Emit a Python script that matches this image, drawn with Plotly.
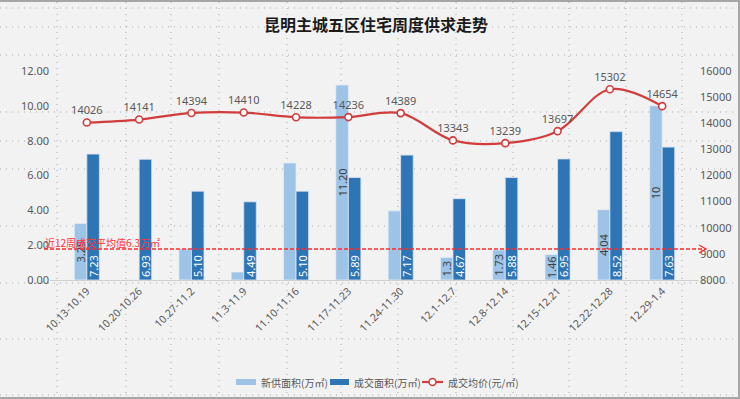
import plotly.graph_objects as go

# ---------------- data ----------------
weeks = ["10.13-10.19", "10.20-10.26", "10.27-11.2", "11.3-11.9", "11.10-11.16",
         "11.17-11.23", "11.24-11.30", "12.1-12.7", "12.8-12.14", "12.15-12.21",
         "12.22-12.28", "12.29-1.4"]
supply = [3.25, 0, 1.78, 0.46, 6.72, 11.20, 3.97, 1.3, 1.73, 1.46, 4.04, 10]
supply_labels = ["3.25", "", "", "", "", "11.20", "", "1.3", "1.73", "1.46", "4.04", "10"]
deal = [7.23, 6.93, 5.10, 4.49, 5.10, 5.89, 7.17, 4.67, 5.88, 6.95, 8.52, 7.63]
deal_labels = ["7.23", "6.93", "5.10", "4.49", "5.10", "5.89", "7.17", "4.67", "5.88", "6.95", "8.52", "7.63"]
price = [14026, 14141, 14394, 14410, 14228, 14236, 14389, 13343, 13239, 13697, 15302, 14654]
left_ticks = [0, 2, 4, 6, 8, 10, 12]
left_tick_text = ["0.00", "2.00", "4.00", "6.00", "8.00", "10.00", "12.00"]
right_ticks = [8000, 9000, 10000, 11000, 12000, 13000, 14000, 15000, 16000]
series_names = ["新供面积(万㎡)", "成交面积(万㎡)", "成交均价(元/㎡)"]
avg_text = "近12周成交平均值6.3万㎡"
avg_line_level = 1.78  # where the reference draws the average marker on the left axis

# ---------------- layout helpers ----------------
W, H = 740, 399
ML, MR, MT, MB = 50, 41, 71, 119
PW, PH = W - ML - MR, H - MT - MB


def px(x):
    return (x - ML) / PW


def py(y):
    return (H - MB - y) / PH


GRAY = "#595959"
LIGHT = "#9dc3e6"
DARK = "#2e75b6"
RED = "#d13c3c"
FONT = "Noto Sans, Noto Sans CJK SC, sans-serif"
CJK = "Noto Sans CJK SC, sans-serif"

fig = go.Figure()

fig.add_trace(go.Bar(
    name=series_names[0], x=weeks, y=supply, text=supply_labels,
    marker=dict(color=LIGHT, line=dict(color="#e6eef7", width=0.8)),
    textposition="inside", insidetextanchor="middle", textangle=-90,
    constraintext="none", cliponaxis=False,
    textfont=dict(color="#404040", size=11, family=FONT),
    hoverinfo="x+y",
))
fig.add_trace(go.Bar(
    name=series_names[1], x=weeks, y=deal, text=deal_labels,
    marker=dict(color=DARK, line=dict(color="#dbe6f2", width=0.8)),
    textposition="inside", insidetextanchor="start", textangle=-90,
    constraintext="none", cliponaxis=False,
    textfont=dict(color="white", size=11, family=FONT),
    hoverinfo="x+y",
))
fig.add_trace(go.Scatter(
    name=series_names[2], x=weeks, y=price, yaxis="y2",
    mode="lines+markers+text", text=[str(p) for p in price],
    textposition="top center", cliponaxis=False,
    textfont=dict(color=GRAY, size=11, family=FONT),
    line=dict(color=RED, width=2.2, shape="spline", smoothing=1.0),
    marker=dict(color="white", size=7, line=dict(color=RED, width=1.6)),
))

shapes = []
# background dotted cell grid
hlines = [8, 27, 55, 112, 141, 169, 226, 283, 339, 395]
vlines = [57, 126, 171, 219, 287, 341, 398, 456, 513, 569, 626, 682]
for yy in hlines:
    shapes.append(dict(type="line", xref="paper", yref="paper", layer="below",
                       x0=px(0), x1=px(738), y0=py(yy), y1=py(yy),
                       line=dict(color="#a9a9a9", width=1, dash="1px,5px")))
for xx in vlines:
    shapes.append(dict(type="line", xref="paper", yref="paper", layer="below",
                       x0=px(xx), x1=px(xx), y0=py(2), y1=py(396),
                       line=dict(color="#a9a9a9", width=1, dash="1px,5px")))
# outer border
shapes.append(dict(type="rect", xref="paper", yref="paper", layer="above",
                   x0=px(-2), x1=px(739), y0=py(1), y1=py(398),
                   line=dict(color="#a6a6a6", width=2)))
# average dashed line with arrow
shapes.append(dict(type="line", xref="paper", yref="y", layer="above",
                   x0=px(44), x1=px(705), y0=avg_line_level, y1=avg_line_level,
                   line=dict(color="#ff2a2a", width=1.5, dash="4px,2px")))
yl = py(280 - avg_line_level * PH / 12)
shapes.append(dict(type="path", xref="paper", yref="paper", layer="above",
                   path=f"M {px(699)} {yl + 4/PH} L {px(706)} {yl} L {px(699)} {yl - 4/PH}",
                   line=dict(color="#ff2a2a", width=1.3)))

# hand-placed legend (swatches + labels)
LY = 382
shapes.append(dict(type="rect", xref="paper", yref="paper", x0=px(236), x1=px(256),
                   y0=py(LY - 3), y1=py(LY + 3), fillcolor=LIGHT, line=dict(width=0)))
shapes.append(dict(type="rect", xref="paper", yref="paper", x0=px(330), x1=px(349),
                   y0=py(LY - 3), y1=py(LY + 3), fillcolor=DARK, line=dict(width=0)))
shapes.append(dict(type="line", xref="paper", yref="paper", x0=px(422), x1=px(443),
                   y0=py(LY), y1=py(LY), line=dict(color=RED, width=2.2)))
shapes.append(dict(type="circle", xref="paper", yref="paper", x0=px(429), x1=px(436),
                   y0=py(LY - 3.5), y1=py(LY + 3.5), fillcolor="white",
                   line=dict(color=RED, width=1.5)))

legend_x = [259, 352, 446]
annotations = [dict(text=avg_text, xref="paper", yref="paper", x=px(43), y=py(242),
                    xanchor="left", yanchor="middle", showarrow=False,
                    font=dict(color="#ff3333", size=10, family=CJK))]
for name, lx in zip(series_names, legend_x):
    annotations.append(dict(text=name, xref="paper", yref="paper", x=px(lx), y=py(LY),
                            xanchor="left", yanchor="middle", showarrow=False,
                            font=dict(color=GRAY, size=10, family=CJK)))

fig.update_layout(
    width=W, height=H,
    margin=dict(l=ML, r=MR, t=MT, b=MB, pad=0, autoexpand=False),
    paper_bgcolor="#f2f2f2", plot_bgcolor="#f2f2f2",
    barmode="group", bargap=0.52, bargroupgap=0,
    font=dict(family=FONT, color=GRAY, size=11),
    title=dict(text="<b>昆明主城五区住宅周度供求走势</b>", x=376 / W, xanchor="center",
               y=1 - 25 / H, yanchor="middle", yref="container",
               font=dict(family=CJK, size=16, color="#1a1a1a")),
    xaxis=dict(type="category", tickangle=-45, showgrid=False, showline=True,
               linecolor="#d0d0d0", linewidth=1, ticks="", zeroline=False,
               automargin=False,
               tickfont=dict(size=10.5, color=GRAY, family=FONT)),
    yaxis=dict(range=[0, 12], tickvals=left_ticks, ticktext=left_tick_text,
               showgrid=False, zeroline=False, showline=False, ticks="",
               automargin=False,
               tickfont=dict(size=11, color=GRAY, family=FONT)),
    yaxis2=dict(range=[8000, 16000], tickvals=right_ticks, overlaying="y", side="right",
                tickformat="d",
                showgrid=False, zeroline=False, showline=False, ticks="",
                automargin=False,
                tickfont=dict(size=11, color=GRAY, family=FONT)),
    showlegend=False,
    shapes=shapes,
    annotations=annotations,
)

fig.write_html("out.html", config={"displayModeBar": False},
               post_script="document.body.style.margin='0';document.body.style.overflow='hidden';")
